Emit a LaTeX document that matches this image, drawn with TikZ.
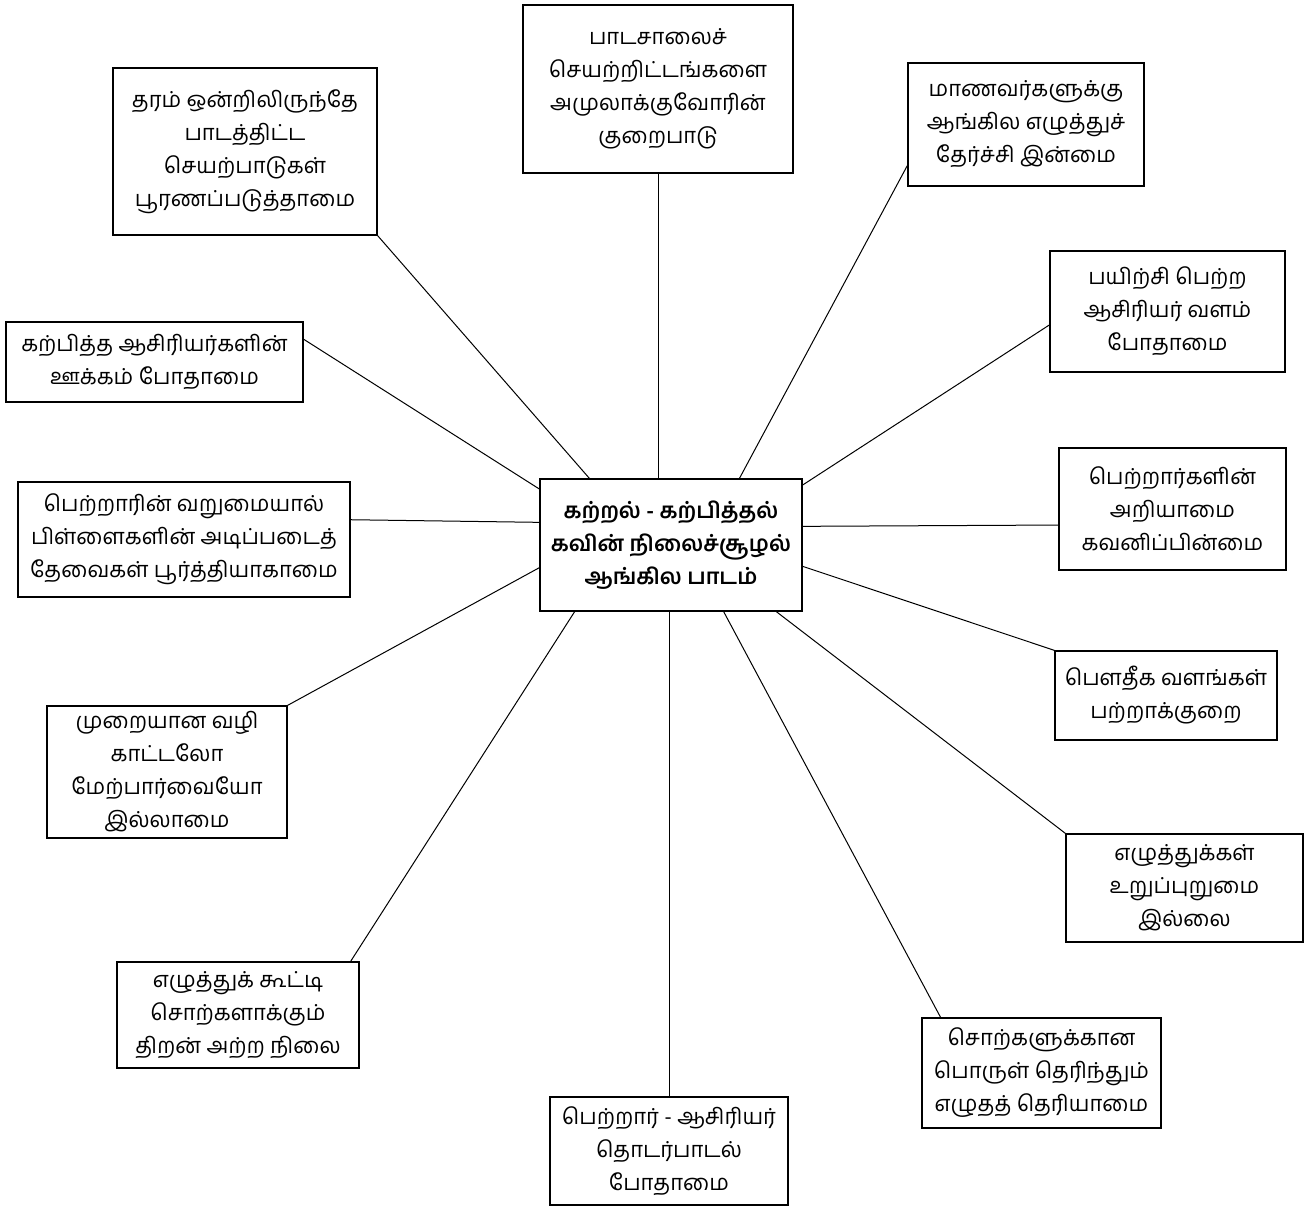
\documentclass[tikz,border=0pt]{standalone}
\usepackage{fontspec}
\newfontfamily\tamil[Script=Tamil]{Hind Madurai}
\newfontfamily\tamilbold[Script=Tamil]{Hind Madurai SemiBold}
\usetikzlibrary{calc}
\begin{document}
\begin{tikzpicture}[x=1pt,y=-1pt,
  box/.style={draw,line width=1.3pt,align=center,inner sep=0pt,font=\tamil\fontsize{22}{33}\selectfont},
  centrebox/.style={box,font=\tamilbold\fontsize{22}{33}\selectfont},
  link/.style={line width=1pt}]
\useasboundingbox (0,0) rectangle (1309,1209);
\node[box,minimum width=264pt,minimum height=167pt] (b1) at (245,151.5) {தரம் ஒன்றிலிருந்தே\\பாடத்திட்ட\\செயற்பாடுகள்\\பூரணப்படுத்தாமை};
\node[box,minimum width=270pt,minimum height=168pt] (b2) at (658,89) {பாடசாலைச்\\செயற்றிட்டங்களை\\அமுலாக்குவோரின்\\குறைபாடு};
\node[box,minimum width=236pt,minimum height=123pt] (b3) at (1026,124.5) {மாணவர்களுக்கு\\ஆங்கில எழுத்துச்\\தேர்ச்சி இன்மை};
\node[box,minimum width=235pt,minimum height=121pt] (b4) at (1167.5,311.5) {பயிற்சி பெற்ற\\ஆசிரியர் வளம்\\போதாமை};
\node[box,minimum width=297pt,minimum height=80pt] (b5) at (154.5,362) {கற்பித்த ஆசிரியர்களின்\\ஊக்கம் போதாமை};
\node[box,minimum width=227pt,minimum height=122pt] (b6) at (1172.5,509) {பெற்றார்களின்\\அறியாமை\\கவனிப்பின்மை};
\node[box,minimum width=332pt,minimum height=115pt] (b7) at (184,539.5) {பெற்றாரின் வறுமையால்\\பிள்ளைகளின் அடிப்படைத்\\தேவைகள் பூர்த்தியாகாமை};
\node[centrebox,minimum width=262pt,minimum height=132pt] (c) at (671,545) {கற்றல் - கற்பித்தல்\\கவின் நிலைச்சூழல்\\ஆங்கில பாடம்};
\node[box,minimum width=240pt,minimum height=132pt] (b9) at (167,772) {முறையான வழி\\காட்டலோ\\மேற்பார்வையோ\\இல்லாமை};
\node[box,minimum width=222pt,minimum height=89pt] (b10) at (1166,695.5) {பௌதீக வளங்கள்\\பற்றாக்குறை};
\node[box,minimum width=237pt,minimum height=108pt] (b11) at (1184.5,888) {எழுத்துக்கள்\\உறுப்புறுமை\\இல்லை};
\node[box,minimum width=242pt,minimum height=106pt] (b12) at (238,1015) {எழுத்துக் கூட்டி\\சொற்களாக்கும்\\திறன் அற்ற நிலை};
\node[box,minimum width=238pt,minimum height=108pt] (b13) at (669,1151) {பெற்றார் - ஆசிரியர்\\தொடர்பாடல்\\போதாமை};
\node[box,minimum width=239pt,minimum height=110pt] (b14) at (1041.5,1073) {சொற்களுக்கான\\பொருள் தெரிந்தும்\\எழுதத் தெரியாமை};
\draw[link] (b1.south east) -- ($(c.north west)!0.19!(c.north east)$);
\draw[link] (b2.south) -- (b2.south |- c.north);
\draw[link] ($(b3.north west)!0.83!(b3.south west)$) -- ($(c.north west)!0.76!(c.north east)$);
\draw[link] ($(b4.north west)!0.61!(b4.south west)$) -- ($(c.north east)!0.05!(c.south east)$);
\draw[link] ($(b5.north east)!0.22!(b5.south east)$) -- ($(c.north west)!0.08!(c.south west)$);
\draw[link] ($(b6.north west)!0.63!(b6.south west)$) -- ($(c.north east)!0.36!(c.south east)$);
\draw[link] ($(b7.north east)!0.33!(b7.south east)$) -- ($(c.north west)!0.33!(c.south west)$);
\draw[link] (b9.north east) -- ($(c.north west)!0.67!(c.south west)$);
\draw[link] (b10.north west) -- ($(c.north east)!0.66!(c.south east)$);
\draw[link] (b11.north west) -- ($(c.south west)!0.90!(c.south east)$);
\draw[link] ($(b12.north west)!0.963!(b12.north east)$) -- ($(c.south west)!0.134!(c.south east)$);
\draw[link] (b13.north) -- (b13.north |- c.south);
\draw[link] ($(b14.north west)!0.08!(b14.north east)$) -- ($(c.south west)!0.70!(c.south east)$);
\end{tikzpicture}
\end{document}
